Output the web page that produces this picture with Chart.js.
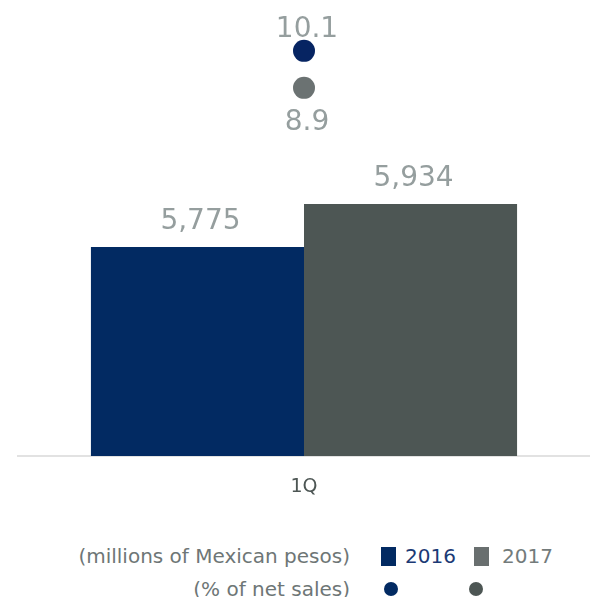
<!DOCTYPE html>
<html>
<head>
<meta charset="utf-8">
<script src="https://cdn.jsdelivr.net/npm/chart.js@4/dist/chart.umd.min.js"></script>
<style>
 body { margin: 0; background: #fff; font-family: "DejaVu Sans", sans-serif; }
 #wrap { position: relative; width: 590px; height: 597px; }
 #chart { position: absolute; left: 0; top: 0; }
 .lbl { position: absolute; font-size: 20px; color: #6e7676; white-space: nowrap; line-height: 24px; }
 .right { right: 240px; text-align: right; }
 .sq { position: absolute; width: 15px; height: 19px; }
 .dot { position: absolute; width: 14px; height: 14px; border-radius: 50%; }
</style>
</head>
<body>
<div id="wrap">
 <canvas id="chart" width="590" height="510"></canvas>
 <div class="lbl right" style="top:544px">(millions of Mexican pesos)</div>
 <div class="sq" style="left:381px;top:547px;background:#022a62"></div>
 <div class="lbl" style="left:405px;top:544px;color:#1c3a75">2016</div>
 <div class="sq" style="left:474px;top:547px;background:#696f6f"></div>
 <div class="lbl" style="left:502px;top:544px;color:#737b7b">2017</div>
 <div class="lbl right" style="top:577px">(% of net sales)</div>
 <div class="dot" style="left:384px;top:582px;background:#022a62"></div>
 <div class="dot" style="left:469px;top:582px;background:#4d5654"></div>
</div>
<script>
// chart values
const categories = ['1Q'];
const years = ['2016', '2017'];
const salesValues = [5775, 5934];   // millions of Mexican pesos
const marginValues = [10.1, 8.9];   // % of net sales

const barColors = ['#022a62', '#4d5654'];
const dotColors = ['#062462', '#6b7272'];
const labelColor = '#959e9e';

// draws the numbers above bars and next to the dots
const valueLabels = {
 id: 'valueLabels',
 afterDatasetsDraw(chart) {
  const ctx = chart.ctx;
  ctx.save();
  ctx.font = '28px "DejaVu Sans"';
  ctx.fillStyle = labelColor;
  ctx.textAlign = 'center';
  chart.data.datasets.forEach((ds, i) => {
   const meta = chart.getDatasetMeta(i);
   meta.data.forEach((el, j) => {
    const v = ds.data[j];
    if (ds.type === 'bar') {
     ctx.textBaseline = 'alphabetic';
     ctx.fillText(v.toLocaleString('en-US'), el.x + 3, el.y - 18);
    } else if (ds.labelSide === 'above') {
     ctx.textBaseline = 'alphabetic';
     ctx.fillText(v.toFixed(1), el.x + 3, el.y - 14);
    } else {
     ctx.textBaseline = 'top';
     ctx.fillText(v.toFixed(1), el.x + 3, el.y + 21);
    }
   });
  });
  ctx.restore();
 }
};

const datasets = [];
years.forEach((y, i) => {
 datasets.push({
  type: 'line',
  label: y + ' %',
  data: [marginValues[i]],
  yAxisID: 'y2',
  showLine: false,
  pointRadius: 11,
  pointHoverRadius: 11,
  pointBackgroundColor: dotColors[i],
  pointBorderWidth: 0,
  labelSide: i === 0 ? 'above' : 'below',
  clip: false,
  order: 0
 });
});
years.forEach((y, i) => {
 datasets.push({
  type: 'bar',
  label: y,
  data: [salesValues[i]],
  yAxisID: 'y',
  backgroundColor: barColors[i],
  borderWidth: 0,
  barPercentage: 1,
  categoryPercentage: 0.745,
  order: 1
 });
});

new Chart(document.getElementById('chart').getContext('2d'), {
 data: { labels: categories, datasets: datasets },
 plugins: [valueLabels],
 options: {
  responsive: false,
  animation: false,
  layout: { autoPadding: false, padding: { left: 18, right: 0, top: 0, bottom: 0 } },
  plugins: { legend: { display: false }, tooltip: { enabled: false } },
  scales: {
   x: {
    grid: { display: true, color: 'rgba(0,0,0,0)', drawTicks: false },
    border: { display: true, color: '#e2e2e2', width: 2 },
    ticks: { color: '#4d5654', font: { family: 'DejaVu Sans', size: 19 }, padding: 20 },
    afterFit(scale) { scale.height = 54; }
   },
   y: { display: false, min: 5000, max: 6690 },
   y2: { display: false, min: -3.04, max: 11.75 }
  }
 }
});
</script>
</body>
</html>
